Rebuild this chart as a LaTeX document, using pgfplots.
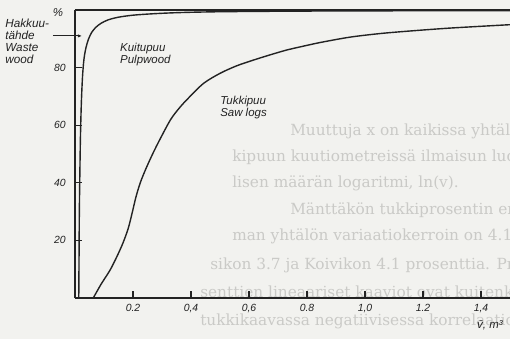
\documentclass[border=0pt]{standalone}
\usepackage{pgfplots}
\pgfplotsset{compat=1.18}
\usetikzlibrary{arrows.meta}
\usepackage{fontspec}
\setmainfont{Liberation Sans}
\newfontfamily\pagefont{DejaVu Serif}
\definecolor{paper}{RGB}{242,242,239}
\definecolor{ink}{RGB}{35,35,35}
\definecolor{bleed}{RGB}{202,202,199}

% Share of waste wood, pulpwood and saw logs by mean stem volume
\pgfplotstableread{
v    p
0.013 0
0.014 15
0.015 30
0.017 45
0.019 57
0.022 68
0.026 77
0.031 83
0.038 87
0.047 90
0.058 92.3
0.072 94.0
0.090 95.4
0.115 96.6
0.150 97.5
0.200 98.2
0.270 98.7
0.360 99.1
0.500 99.4
0.750 99.6
1.000 99.7
1.500 99.8
}\pulpwood

\pgfplotstableread{
v    p
0.063 0
0.090 4.8
0.121 9.7
0.145 14.5
0.165 19
0.183 24
0.197 29.5
0.210 35
0.225 40
0.245 45
0.270 50.5
0.295 55.5
0.330 62
0.360 66
0.390 69.3
0.443 74.5
0.500 78.0
0.557 80.6
0.615 82.6
0.672 84.4
0.730 86.1
0.790 87.5
0.850 88.8
0.950 90.6
1.060 91.9
1.180 92.9
1.290 93.7
1.410 94.4
1.500 94.9
}\sawlogs

\begin{document}
\begin{tikzpicture}
% page with text showing through from the reverse side
\begin{scope}[shift={(-56.25pt,223.5pt)}, x=0.75pt, y=-0.75pt]
  \fill[paper] (0,0) rectangle (510,339);
  \begin{scope}[every node/.style={anchor=base west, inner sep=0pt, text=bleed,
      font=\pagefont\fontsize{11.5}{12}\selectfont}]
    \node at (290,136) {Muuttuja x on kaikissa yhtälöissä};
    \node at (232,162) {kipuun kuutiometreissä ilmaisun luonnol-};
    \node at (232,188) {lisen määrän logaritmi, ln(v).};
    \node at (290,214) {Mänttäkön tukkiprosentin ennusta-};
    \node at (232,241) {man yhtälön variaatiokerroin on 4.1, Kuu-};
    \node at (210,269) {sikon 3.7 ja Koivikon 4.1 prosenttia. Pro-};
    \node at (200,297) {senttien lineaariset kaaviot ovat kuitenkin};
    \node at (200,325) {tukkikaavassa negatiivisessa korrelaatiossa};
  \end{scope}
\end{scope}

\begin{axis}[
  scale only axis, width=326.25pt, height=216pt,
  xmin=0, xmax=1.5, ymin=0, ymax=100,
  axis lines=left, axis line style={-, ink, line width=1.1pt},
  xtick={0.2,0.4,0.6,0.8,1.0,1.2,1.4},
  xticklabels={0.2,{0,4},{0,6},0.8,{1,0},1.2,{1,4}},
  ytick={20,40,60,80},
  tick align=inside, major tick length=5pt,
  tick style={ink, line width=0.8pt},
  /pgf/number format/assume math mode=true,
  ticklabel style={font=\itshape\fontsize{7.8}{9}\selectfont, text=ink},
  yticklabel style={xshift=-3.5pt},
  xticklabel style={yshift=-1pt},
  clip=false,
]
  \draw[ink, line width=1.1pt] (rel axis cs:0,1) -- (rel axis cs:1,1);

  \addplot[ink, line width=1.05pt, smooth, tension=0.5] table[x=v, y=p] {\pulpwood};
  \addplot[ink, line width=1.05pt, smooth, tension=0.5] table[x=v, y=p] {\sawlogs};

  \begin{scope}[every node/.style={inner sep=0pt, text=ink,
      font=\itshape\fontsize{8.6}{8.8}\selectfont, align=left}]
    \node[anchor=north west] at (axis cs:0.155,88.5) {Kuitupuu\\Pulpwood};
    \node[anchor=north west] at (axis cs:0.50,70.1) {Tukkipuu\\Saw logs};
    \node[anchor=north west, font=\itshape\fontsize{8.8}{9.1}\selectfont]
      at (axis cs:-0.241,97.0) {Hakkuu-\\tähde\\Waste\\wood};
    \node[anchor=center] at (axis cs:-0.059,99.1) {\%};
    \node[anchor=west] at (axis cs:1.386,-9.3) {v̄, m³};
  \end{scope}
  \draw[ink, line width=0.8pt, -{Latex[length=3pt,width=2.5pt]}]
    (axis cs:-0.076,91) -- (axis cs:0.024,91);
\end{axis}
\pgfresetboundingbox
\path[use as bounding box] (-56.25pt,-30.75pt) rectangle (326.25pt,223.5pt);
\end{tikzpicture}
\end{document}
